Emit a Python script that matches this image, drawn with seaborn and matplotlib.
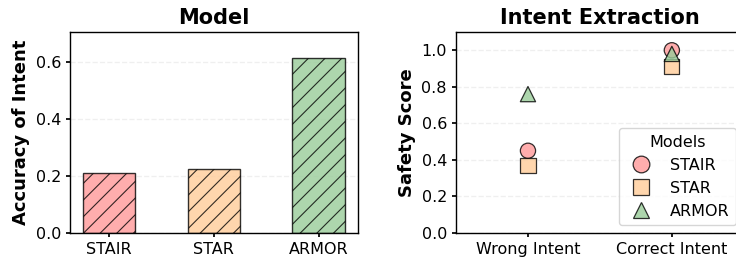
import matplotlib
matplotlib.use("Agg")
import matplotlib.pyplot as plt
import seaborn as sns
import pandas as pd

# data
models = ["STAIR", "STAR", "ARMOR"]
intent_accuracy = [0.21, 0.225, 0.615]

conditions = ["Wrong Intent", "Correct Intent"]
safety_stair = [0.45, 1.00]
safety_star = [0.37, 0.91]
safety_armor = [0.76, 0.98]

colors = ["#ff9999", "#ffcc99", "#99cc99"]
markers = {"STAIR": "o", "STAR": "s", "ARMOR": "^"}

sns.set_theme(style="white", font="DejaVu Sans")
plt.rcParams["font.family"] = ["DejaVu Sans"]
plt.rcParams.update({
    "text.color": "black",
    "axes.labelcolor": "black",
    "xtick.color": "black",
    "ytick.color": "black",
    "hatch.linewidth": 0.8,
})

fig = plt.figure(figsize=(7.36, 2.58), dpi=100)
ax1 = fig.add_axes([0.0951, 0.097, 0.391, 0.779])
ax2 = fig.add_axes([0.6196, 0.097, 0.391, 0.779])

# left: bar chart
df_acc = pd.DataFrame({"model": models, "acc": intent_accuracy})
sns.barplot(data=df_acc, x="model", y="acc", hue="model", palette=colors,
            width=0.5, alpha=0.8, saturation=1, edgecolor="black", linewidth=1.0,
            legend=False, ax=ax1)
for p in ax1.patches:
    p.set_hatch("//")
    p.set_edgecolor((0, 0, 0, 0.75))
ax1.set_xlim(-0.375, len(models) - 0.625)
ax1.set_ylim(0, max(intent_accuracy) * 1.15)
ax1.set_yticks([0.0, 0.2, 0.4, 0.6])
ax1.set_title("Model", fontsize=15, fontweight="bold")
ax1.set_xlabel("")
ax1.set_ylabel("Accuracy of Intent", fontsize=13, fontweight="bold")
ax1.yaxis.grid(True, linestyle="--", alpha=0.3)
ax1.set_axisbelow(True)

# right: scatter
df_s = pd.DataFrame({
    "condition": conditions * 3,
    "score": safety_stair + safety_star + safety_armor,
    "Models": ["STAIR"] * 2 + ["STAR"] * 2 + ["ARMOR"] * 2,
})
df_s["x"] = df_s["condition"].map({c: i for i, c in enumerate(conditions)})
sns.scatterplot(data=df_s, x="x", y="score", hue="Models", style="Models",
                palette=colors, markers=markers, s=120, alpha=0.8,
                edgecolor="black", linewidth=0.9, ax=ax2, zorder=3)
ax2.set_xlim(-0.5, 1.5)
ax2.set_xticks(range(len(conditions)))
ax2.set_xticklabels(conditions)
ax2.set_ylim(0, 1.1)
ax2.set_yticks([0.0, 0.2, 0.4, 0.6, 0.8, 1.0])
ax2.set_title("Intent Extraction", fontsize=15, fontweight="bold")
ax2.set_xlabel("")
ax2.set_ylabel("Safety Score", fontsize=13, fontweight="bold")
ax2.yaxis.grid(True, linestyle="--", alpha=0.3)
ax2.set_axisbelow(True)
leg = ax2.legend(title="Models", loc="lower right", fontsize=11.5, title_fontsize=11.5)
for h in leg.legend_handles:
    h.set_markeredgecolor("black")
    h.set_markersize(12)

for ax in (ax1, ax2):
    ax.tick_params(axis="both", labelsize=11.5, length=3, left=True, bottom=True)
    for s in ax.spines.values():
        s.set_color("black")
        s.set_linewidth(1.0)

fig.savefig("out.png", dpi=100)
